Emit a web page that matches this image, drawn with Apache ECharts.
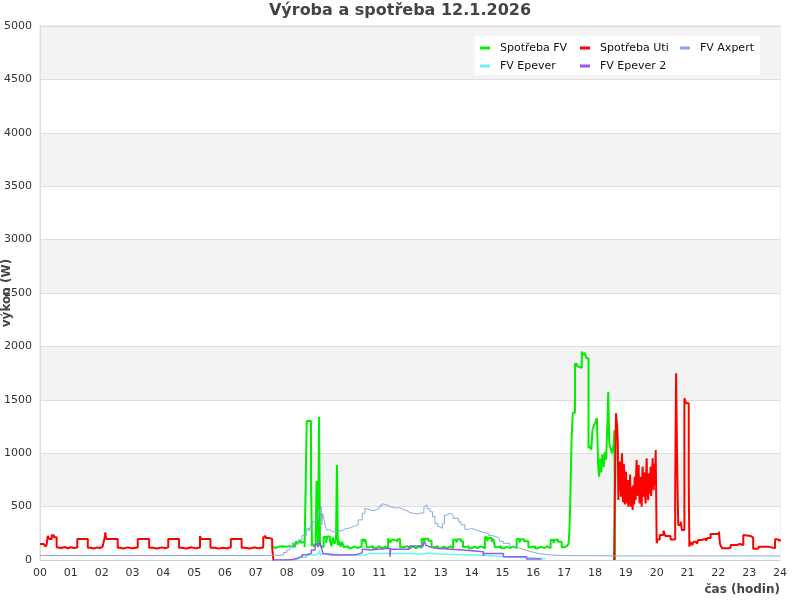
<!DOCTYPE html>
<html>
<head>
<meta charset="utf-8">
<script src="https://cdn.jsdelivr.net/npm/echarts@6/dist/echarts.min.js"></script>
<style>html,body{margin:0;padding:0;background:#fff}#c{width:800px;height:600px}</style>
</head>
<body>
<div id="c"></div>
<script>
const xTickLabels = ['00','01','02','03','04','05','06','07','08','09','10','11','12','13','14','15','16','17','18','19','20','21','22','23','24'];
const seriesNames = ['Spotřeba FV','Spotřeba Uti','FV Axpert','FV Epever','FV Epever 2'];

const spotrebaFV = [
 [7.57,131],[7.62,110],[7.68,125],[7.75,108],[7.8,128],[7.86,112],[7.92,125],[7.98,108],[8.04,130],[8.1,112],[8.15,122],
 [8.21,160],[8.26,120],[8.3,175],[8.36,150],[8.42,185],[8.48,160],[8.54,175],[8.58,120],
 [8.62,749],[8.65,1301],[8.79,749],[8.82,130],[8.86,150],[8.9,125],[8.94,150],[8.97,740],[9.02,120],[9.05,1342],[9.08,150],[9.12,125],
 [9.2,215],[9.28,160],[9.32,220],[9.4,190],[9.45,130],[9.5,210],[9.55,150],[9.6,200],[9.63,889],[9.66,140],
 [9.7,180],[9.75,125],[9.8,170],[9.85,120],[9.9,130],[10.0,110],[10.1,128],[10.2,112],[10.3,125],
 [10.43,190],[10.5,170],[10.55,195],[10.6,120],[10.7,130],[10.8,110],[10.9,128],[11.0,112],[11.1,125],[11.2,110],
 [11.29,203],[11.35,160],[11.4,190],[11.5,175],[11.6,195],[11.68,120],[11.8,130],[11.9,112],[12.0,126],[12.1,110],[12.2,128],[12.3,112],
 [12.38,196],[12.45,170],[12.5,200],[12.6,180],[12.7,120],[12.8,130],[12.9,110],[13.0,126],[13.1,112],[13.2,128],[13.3,110],
 [13.4,190],[13.5,165],[13.55,195],[13.65,175],[13.72,122],[13.8,130],[13.9,110],[14.0,126],[14.1,112],[14.2,128],[14.3,110],
 [14.43,212],[14.5,180],[14.55,205],[14.65,170],[14.7,200],[14.76,120],[14.85,130],[14.95,110],[15.05,126],[15.15,112],[15.25,128],[15.35,110],
 [15.46,196],[15.55,165],[15.6,195],[15.7,175],[15.84,120],[15.95,130],[16.05,110],[16.15,126],[16.25,112],[16.35,128],[16.45,110],
 [16.56,187],[16.65,160],[16.7,190],[16.8,170],[16.92,120],[17.0,128],[17.08,110],[17.14,150],
 [17.17,265],[17.2,577],[17.24,1130],[17.28,1379],[17.35,1835],[17.42,1815],[17.48,1800],[17.57,1950],[17.62,1920],[17.67,1940],[17.72,1890],
 [17.79,1046],[17.84,1070],[17.88,1030],[17.92,1224],[17.97,1260],[18.0,1280],[18.06,1330],
 [18.1,905],[18.13,780],[18.17,950],[18.2,820],[18.24,990],[18.28,870],[18.32,1010],[18.36,940],[18.4,1250],
 [18.43,1576],[18.46,1100],[18.5,1050],[18.55,1000],[18.6,1080],[18.63,1217],[18.65,0]
];

const spotrebaUti = [
 [0,150],[0.12,160],[0.18,125],[0.22,150],[0.25,225],[0.3,197],[0.38,231],[0.45,212],[0.54,119],[0.6,112],[0.7,122],[0.8,110],[0.9,120],[1.0,112],[1.1,118],
 [1.21,197],[1.55,115],[1.65,108],[1.75,118],[1.85,112],[1.95,125],[2.03,140],[2.09,200],[2.12,259],[2.15,196],
 [2.52,115],[2.6,108],[2.7,118],[2.85,110],[3.0,118],[3.17,197],[3.54,115],[3.65,108],[3.8,118],[3.95,110],[4.05,118],
 [4.16,196],[4.51,115],[4.6,108],[4.75,120],[4.9,110],[5.05,118],[5.19,225],[5.22,197],[5.53,115],[5.65,108],[5.8,98],[5.85,115],[5.95,108],[6.05,120],
 [6.19,196],[6.54,115],[6.65,108],[6.8,118],[6.95,110],[7.1,118],[7.24,212],[7.28,225],[7.32,205],[7.45,197],[7.53,115],[7.57,0],[7.6,null],
 [18.62,0],[18.64,515],[18.68,1373],[18.72,1249],[18.74,1093],[18.757,562],[18.77,780],[18.789,655],[18.8,870],[18.81,921],[18.83,700],[18.843,593],[18.86,860],[18.876,999],[18.89,640],[18.9,718],[18.91,540],[18.919,624],
 [18.935,900],[18.951,812],[18.965,520],[18.984,593],[18.995,760],[19.005,827],[19.02,610],[19.038,530],[19.055,690],[19.07,749],[19.08,500],[19.092,562],[19.11,720],[19.124,655],[19.14,800],[19.157,499],[19.17,620],[19.189,686],[19.205,560],[19.222,468],[19.24,700],[19.254,624],
 [19.27,520],[19.286,780],[19.3,650],[19.319,562],[19.335,820],[19.351,936],[19.365,600],[19.384,686],[19.4,760],[19.416,889],[19.43,640],[19.449,530],[19.465,700],[19.481,780],[19.495,590],[19.514,499],[19.53,760],[19.546,874],[19.56,680],[19.578,593],[19.595,820],[19.611,749],
 [19.627,600],[19.643,530],[19.66,780],[19.676,952],[19.69,700],[19.708,655],[19.725,560],[19.741,812],[19.757,700],[19.773,624],[19.79,760],[19.805,874],[19.82,600],[19.838,718],[19.855,820],[19.87,952],[19.885,720],[19.903,655],[19.92,900],[19.935,812],[19.95,700],[19.968,1030],
 [20.0,156],[20.03,193],[20.1,234],[20.22,275],[20.28,225],[20.45,193],[20.6,624],[20.63,1748],[20.66,1000],[20.68,624],[20.7,328],[20.78,359],[20.82,281],
 [20.9,1514],[20.96,1467],[21.04,749],[21.06,125],[21.09,170],[21.15,140],[21.2,172],[21.3,150],[21.35,187],[21.45,170],[21.5,200],[21.6,180],[21.65,205],
 [21.75,243],[22.02,265],[22.05,156],[22.08,130],[22.13,109],[22.3,94],[22.35,115],[22.4,140],[22.6,150],[22.7,140],[22.81,234],[22.85,225],[23.05,210],
 [23.13,106],[23.3,125],[23.45,135],[23.5,125],[23.62,109],[23.84,194],[23.92,180],[24,194]
];

const fvAxpert = [
 [0,42],[0.3,34],[0.33,42],[0.7,34],[0.74,42],[1.1,34],[1.13,42],[1.6,34],[1.64,42],[2.0,34],[2.05,42],[2.6,34],[2.63,42],[3.0,34],[3.04,42],
 [3.5,34],[3.53,42],[4.0,34],[4.05,42],[4.4,34],[4.43,42],[4.9,34],[4.94,42],[5.4,34],[5.43,42],[5.9,34],[5.94,42],[6.3,34],[6.33,42],[6.8,34],[6.84,42],[7.2,34],[7.23,44],
 [7.78,47],[7.9,70],[8.0,95],[8.1,125],[8.2,150],[8.38,187],[8.5,230],[8.65,297],[8.72,270],[8.78,330],[8.85,360],[8.92,375],[9.0,380],[9.04,460],[9.08,468],
 [9.12,499],[9.14,330],[9.16,440],[9.2,395],[9.25,320],[9.3,281],[9.4,265],[9.5,268],[9.65,275],[9.8,290],[9.89,297],[10.0,305],[10.1,318],[10.2,330],
 [10.32,375],[10.45,437],[10.54,484],[10.6,470],[10.7,462],[10.8,470],[10.9,484],[11.0,505],[11.08,524],[11.15,515],[11.25,500],[11.35,494],[11.45,485],
 [11.55,490],[11.65,474],[11.78,462],[11.9,445],[12.0,437],[12.11,431],[12.25,440],[12.35,443],[12.45,499],[12.49,515],[12.55,480],[12.65,452],[12.73,406],
 [12.81,343],[12.9,312],[12.97,296],[13.05,340],[13.12,421],[13.19,437],[13.3,420],[13.4,390],[13.57,359],[13.65,330],[13.78,287],[13.9,296],[14.0,280],
 [14.16,265],[14.3,255],[14.43,250],[14.55,230],[14.65,218],[14.8,200],[14.9,175],[15.03,156],[15.24,125],[15.4,110],[15.57,94],[15.75,80],[15.89,69],
 [16.05,58],[16.22,47],[16.54,42],[17.0,40],[18.0,38],[18.8,32],[18.83,38],[19.2,32],[19.24,38],[19.6,32],[19.63,38],[20.0,32],[20.04,38],[20.5,32],[20.53,38],
 [21.0,32],[21.04,38],[21.5,32],[21.53,38],[22.0,32],[22.04,38],[22.6,32],[22.63,38],[23.1,32],[23.14,38],[23.6,32],[23.63,38],[24,38]
];

const fvEpever = [
 [7.6,0],[8.0,5],[8.38,25],[8.65,47],[8.92,62],[9.06,94],[9.1,50],[9.14,62],[9.3,44],[10.0,47],[10.54,62],[10.7,62],[11.98,56],[12.43,65],[12.6,56],
 [12.87,44],[14.38,28],[15.24,22],[15.95,12],[16.38,12]
];

const fvEpever2 = [
 [7.6,0],[8.0,5],[8.2,20],[8.38,31],[8.5,50],[8.65,62],[8.8,94],[8.92,125],[8.97,156],[9.02,125],[9.06,172],[9.1,140],[9.14,100],[9.18,60],[9.24,47],
 [9.5,47],[9.9,50],[10.2,55],[10.32,69],[10.45,100],[10.54,109],[10.6,94],[10.7,109],[11.35,31],[11.37,100],[11.98,131],[12.43,162],[12.5,140],[12.55,125],
 [12.62,109],[12.87,100],[13.3,94],[13.73,78],[14.38,40],[14.4,62],[15.03,31],[15.78,10],[16.27,10]
];

const colors = ['#00ee00','#ff0000','#88a8e4','#66f5ee','#9955ee'];
const widths = [2,2,1,1.5,1.5];
const dataSets = [spotrebaFV, spotrebaUti, fvAxpert, fvEpever, fvEpever2];

const chart = echarts.init(document.getElementById('c'), null, {renderer:'canvas'});
chart.setOption({
  animation:false,
  backgroundColor:'#fff',
  textStyle:{fontFamily:'DejaVu Sans'},
  title:{text:'Výroba a spotřeba 12.1.2026', left:'center', top:3, padding:0,
    textStyle:{fontFamily:'DejaVu Sans', fontWeight:'bold', fontSize:16, color:'#444'}},
  graphic:[{type:'rect', z:3, shape:{x:475,y:36,width:285,height:39}, style:{fill:'#fff'}}],
  legend:{data:seriesNames, left:480, top:41, width:300, padding:0, itemGap:4, itemWidth:10, itemHeight:3, icon:'rect', z:10,
    textStyle:{fontFamily:'DejaVu Sans', fontSize:11, color:'#111', width:76, padding:[0,0,0,5], lineHeight:14}},
  grid:{left:40, right:20, top:26, bottom:40, containLabel:false, outerBoundsMode:'none', show:true, borderColor:'#ddd', borderWidth:1, backgroundColor:'transparent'},
  xAxis:{type:'value', min:0, max:24, interval:1,
    name:'čas (hodin)', nameLocation:'end', nameGap:0,
    nameTextStyle:{fontFamily:'DejaVu Sans', fontWeight:'bold', fontSize:12, color:'#444', align:'right', verticalAlign:'top', padding:[24,0,0,0]},
    axisLine:{show:true, lineStyle:{color:'#ccc'}}, axisTick:{show:false}, splitLine:{show:false},
    axisLabel:{color:'#333', fontSize:11, margin:8, formatter:v=>xTickLabels[Math.round(v)]}},
  yAxis:{type:'value', min:0, max:5000, interval:500,
    name:'výkon (W)', nameLocation:'middle', nameGap:27, nameRotate:90, nameMoveOverlap:false,
    nameTextStyle:{fontFamily:'DejaVu Sans', fontWeight:'bold', fontSize:12, color:'#444'},
    axisLine:{show:true, lineStyle:{color:'#ddd'}}, axisTick:{show:false},
    axisLabel:{color:'#333', fontSize:11, margin:8, formatter:v=>String(v)},
    splitLine:{show:true, lineStyle:{color:'#ddd'}},
    splitArea:{show:true, areaStyle:{color:['#ffffff','#f3f3f3']}}},
  series: seriesNames.map((n,i)=>({
    name:n, type:'line', step:'end', showSymbol:false, symbol:'none', data:dataSets[i],
    color:colors[i], lineStyle:{width:widths[i], color:colors[i]}, z:2+i
  }))
});
</script>
</body>
</html>
